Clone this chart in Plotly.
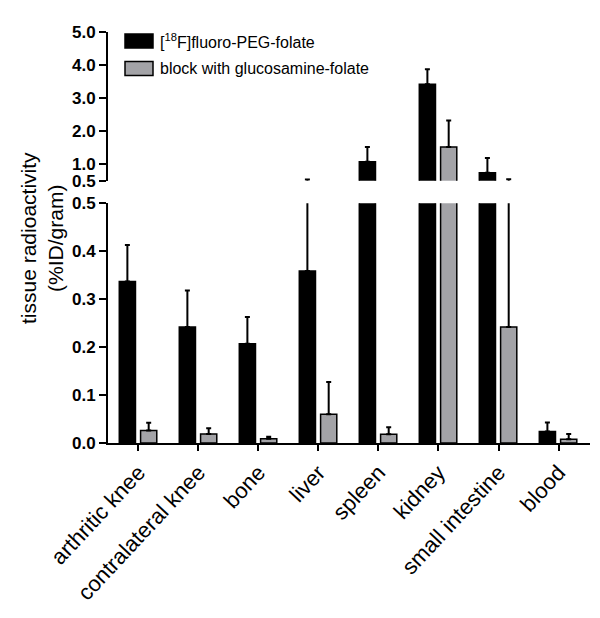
import plotly.graph_objects as go

categories = ["arthritic knee", "contralateral knee", "bone", "liver", "spleen",
              "kidney", "small intestine", "blood"]
peg_values = [0.337, 0.242, 0.207, 0.359, 1.07, 3.42, 0.74, 0.024]
peg_errors = [0.076, 0.076, 0.056, 0.18, 0.45, 0.45, 0.45, 0.019]
block_values = [0.026, 0.019, 0.009, 0.060, 0.018, 1.52, 0.242, 0.008]
block_errors = [0.016, 0.012, 0.004, 0.067, 0.015, 0.80, 0.30, 0.011]

series_names = ["[<sup>18</sup>F]fluoro-PEG-folate", "block with glucosamine-folate"]
lower_ticks = [0.0, 0.1, 0.2, 0.3, 0.4, 0.5]
upper_ticks = [0.5, 1.0, 2.0, 3.0, 4.0, 5.0]

BLACK = "#000000"
GRAY = "#a3a3a7"
FONT = "Arial, Liberation Sans, sans-serif"

# the page body adds an 8px offset; compensate so the drawing lands on the target pixels
OFF = 8
W, H = 600 - OFF, 618 - OFF
ML, MR, MT, MB = 108 - OFF, 10, 32 - OFF, 175
PW, PH = W - ML - MR, H - MT - MB


def px_x(p):
    return (p - OFF - ML) / PW


def px_y(p):
    return (H - MB - (p - OFF)) / PH


fig = go.Figure()

specs = [
    (peg_values, peg_errors, BLACK, -0.32),
    (block_values, block_errors, GRAY, 0.035),
]
for yref, xref in (("y", "x"), ("y2", "x2")):
    for vals, errs, col, off in specs:
        fig.add_trace(go.Bar(
            x=list(range(len(categories))), y=vals,
            xaxis=xref, yaxis=yref,
            width=0.27, offset=off,
            marker=dict(color=col, line=dict(color="black", width=1.5)),
            error_y=dict(type="data", symmetric=False, array=errs,
                         arrayminus=[0] * len(errs),
                         color="black", thickness=2, width=2.5),
            showlegend=False, hoverinfo="skip",
        ))

xr = [-0.508, 7.525]
ytick_common = dict(
    tickfont=dict(size=17, family=FONT),
    showline=True, linecolor="black", linewidth=2,
    ticks="outside", ticklen=7, tickwidth=2, tickcolor="black",
    showgrid=False, zeroline=False,
)
fig.update_layout(
    width=W, height=H,
    margin=dict(l=ML, r=MR, t=MT, b=MB),
    paper_bgcolor="white", plot_bgcolor="white",
    barmode="overlay",
    font=dict(family=FONT, color="black"),
    xaxis=dict(
        domain=[0, 1], range=xr, anchor="y",
        tickmode="array", tickvals=list(range(len(categories))), ticktext=categories,
        tickangle=-47, tickfont=dict(size=22, family=FONT),
        showline=True, linecolor="black", linewidth=2,
        ticks="outside", ticklen=6, tickwidth=2, tickcolor="black",
        showgrid=False, zeroline=False,
    ),
    xaxis2=dict(
        domain=[0, 1], range=xr, anchor="y2", matches="x",
        showticklabels=False, showline=False, ticks="", showgrid=False, zeroline=False,
    ),
    yaxis=dict(
        domain=[0, px_y(203.3)], range=[0, 0.5], anchor="x",
        tickmode="array", tickvals=lower_ticks,
        ticktext=["<b>%.1f</b>" % v for v in lower_ticks],
        **ytick_common,
    ),
    yaxis2=dict(
        domain=[px_y(180.7), 1], range=[0.5, 5.0], anchor="x2",
        tickmode="array", tickvals=upper_ticks,
        ticktext=["<b>%.1f</b>" % v for v in upper_ticks],
        **ytick_common,
    ),
)

# y-axis title centred on both panels
fig.add_annotation(
    xref="paper", yref="paper", x=px_x(42), y=px_y(238),
    text="tissue radioactivity<br>(%ID/gram)", textangle=-90,
    showarrow=False, font=dict(size=21, family=FONT),
    xanchor="center", yanchor="middle",
)

# legend drawn manually
legend_rows = [(34, 48, BLACK), (61.5, 75.5, GRAY)]
for (y0, y1, col), name in zip(legend_rows, series_names):
    fig.add_shape(type="rect", xref="paper", yref="paper",
                  x0=px_x(125), x1=px_x(153), y0=px_y(y1), y1=px_y(y0),
                  fillcolor=col, line=dict(color="black", width=1.5))
    fig.add_annotation(xref="paper", yref="paper", x=px_x(158), y=px_y((y0 + y1) / 2),
                       text=name, showarrow=False, xanchor="left", yanchor="middle",
                       font=dict(size=16, family=FONT))

fig.write_html("out.html")
